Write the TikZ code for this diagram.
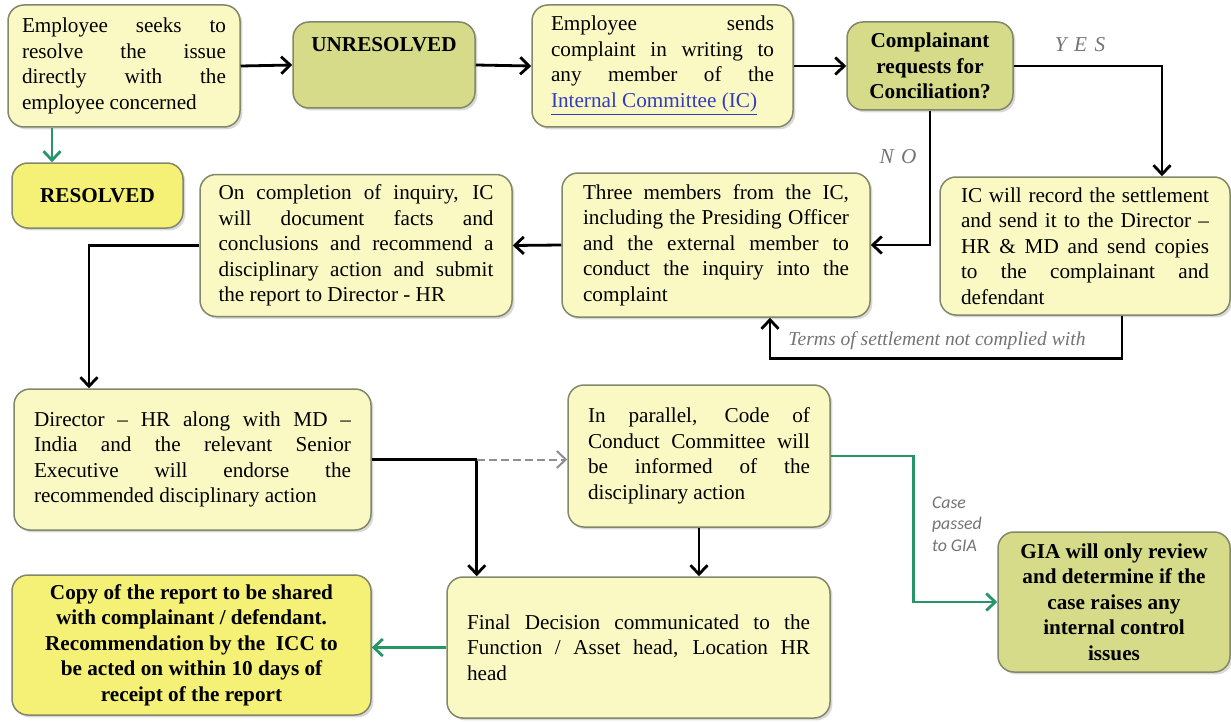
\documentclass[tikz,border=0pt]{standalone}
\usepackage{fontspec}
\setmainfont{Liberation Serif}
\newfontfamily\notefont{Carlito}
\usepackage{tikz}
\usetikzlibrary{arrows.meta,positioning,calc,shadows}
\usepackage{xcolor}
\definecolor{paleyellow}{RGB}{250,249,196}
\definecolor{olivegreen}{RGB}{213,219,137}
\definecolor{brightyellow}{RGB}{245,241,118}
\definecolor{boxedge}{RGB}{130,136,105}
\definecolor{flowgreen}{RGB}{38,150,105}
\definecolor{notegrey}{RGB}{115,115,115}
\definecolor{linkblue}{RGB}{50,60,190}
\newcommand{\bodyfont}{\fontsize{10.6}{12.8}\selectfont}

\tikzset{
  block/.style={draw=boxedge, line width=0.75pt, rounded corners=8pt, inner sep=0pt,
    drop shadow={shadow xshift=1.2pt, shadow yshift=-1.2pt, opacity=0.3}},
  paleblock/.style={block, fill=paleyellow, align=justify},
  oliveblock/.style={block, fill=olivegreen, align=center, font=\bodyfont\bfseries},
  brightblock/.style={block, fill=brightyellow, align=center, font=\bodyfont\bfseries},
  flow/.style={line width=1.4pt, -{Straight Barb[length=4.5pt,width=8.5pt]}},
  greenflow/.style={flow, draw=flowgreen},
  note/.style={text=notegrey, font=\fontsize{9.8}{11}\selectfont\itshape},
  answer/.style={text=notegrey, font=\fontsize{10.6}{12}\selectfont\itshape},
  casenote/.style={text=notegrey, align=left, font=\notefont\fontsize{8.9}{10.8}\selectfont\itshape},
}

\begin{document}
\begin{tikzpicture}[x=0.5pt, y=-0.5pt, font=\bodyfont]
  \useasboundingbox (0,0) rectangle (1231,722);
  % Top row
  \node[paleblock, minimum width=116pt, minimum height=61pt, text width=102pt] (seek) at (124,66)
    {Employee seeks to\linebreak resolve the issue\linebreak directly with the\linebreak employee concerned};
  \node[oliveblock, minimum width=91pt, minimum height=43pt,
    label={[anchor=north, yshift=-4.5pt, font=\bodyfont\bfseries]north:UNRESOLVED}] (unres) at (384,65) {};
  \node[paleblock, minimum width=130.5pt, minimum height=61pt, text width=111.5pt] (sends) at (662.5,66)
    {Employee sends\linebreak complaint in writing to\linebreak any member of the\linebreak
     \textcolor{linkblue}{\underline{Internal Committee (IC)}}};
  \node[oliveblock, minimum width=83pt, minimum height=44pt] (concil) at (930,66)
    {Complainant\\requests for\\Conciliation?};
  % Middle row
  \node[brightblock, minimum width=85.5pt, minimum height=32.5pt] (resolved) at (97.5,195.5) {RESOLVED};
  \node[paleblock, minimum width=156pt, minimum height=71pt, text width=137.5pt] (compl) at (356,245.5)
    {On completion of inquiry, IC\linebreak will document facts and\linebreak conclusions and recommend a\linebreak
     disciplinary action and submit\linebreak the report to Director - HR};
  \node[paleblock, minimum width=154pt, minimum height=72pt, text width=133pt] (three) at (716,245)
    {Three members from the IC,\linebreak including the Presiding Officer\linebreak and the external member to\linebreak
     conduct the inquiry into the\linebreak complaint};
  \node[paleblock, minimum width=145pt, minimum height=69pt, text width=124pt] (icrec) at (1085,246)
    {IC will record the settlement\linebreak and send it to the Director --\linebreak HR \& MD and send copies\linebreak
     to the complainant and\linebreak defendant};
  % Bottom rows
  \node[paleblock, minimum width=178.5pt, minimum height=70.5pt, text width=158.5pt] (director) at (192.5,459.5)
    {Director -- HR along with MD --\linebreak India and the relevant Senior\linebreak Executive will endorse the\linebreak
     recommended disciplinary action};
  \node[paleblock, minimum width=131pt, minimum height=71pt, text width=111pt] (parallel) at (699,456)
    {In parallel, Code of\linebreak Conduct Committee will\linebreak be informed of the\linebreak disciplinary action};
  \node[paleblock, minimum width=191.5pt, minimum height=70.5pt, text width=171.5pt] (final) at (638.5,647.5)
    {Final Decision communicated to the\linebreak Function / Asset head, Location HR\linebreak head};
  \node[brightblock, minimum width=179.5pt, minimum height=70pt] (copy) at (191.5,645)
    {Copy of the report to be shared\\with complainant / defendant.\\Recommendation by the\ \ ICC to\\
     be acted on within 10 days of\\receipt of the report};
  \node[oliveblock, minimum width=116pt, minimum height=70pt] (gia) at (1114,602)
    {GIA will only review\\and determine if the\\case raises any\\internal control\\issues};

  % Connectors, top row
  \draw[flow] (seek.east) -- (unres.west);
  \draw[greenflow] ([xshift=-36pt]seek.south) -- ([xshift=-36pt]seek.south |- resolved.north);
  \draw[flow] (unres.east) -- (sends.west);
  \draw[flow] (sends.east) -- (concil.west);
  % Conciliation answers
  \draw[flow] (concil.east) -| ([xshift=38.5pt]icrec.north);
  \node[answer] at (1080,45) {Y\hspace{0.35em}E\hspace{0.35em}S};
  \draw[flow] (concil.south) |- (three.east);
  \node[answer] at (898,157) {N\hspace{0.35em}O};
  \draw[flow] ([xshift=18.5pt]icrec.south) -- ++(0,43) -| ([xshift=27pt]three.south);
  \node[note] at (937,341) {Terms of settlement not complied with};
  % Inquiry to decision
  \draw[flow] (three.west) -- (compl.east);
  \draw[flow] (compl.west) -| ([xshift=-51.75pt]director.north);
  \coordinate (split) at ([xshift=52.5pt]director.east);
  \draw[line width=1.4pt] (director.east) -- (split);
  \draw[flow] (split) -- (split |- final.north);
  \draw[flow, draw=notegrey!80, line width=1pt, dash pattern=on 4pt off 2pt] (split) -- (split -| parallel.west);
  \draw[flow] (parallel.south) -- (parallel.south |- final.north);
  \draw[greenflow] (final.west) -- (final.west -| copy.east);
  \draw[greenflow] (parallel.east) -- ++(83,0) |- (gia.west);
  \node[casenote, anchor=west] at (925,524) {Case\\passed\\to GIA};
\end{tikzpicture}
\end{document}
